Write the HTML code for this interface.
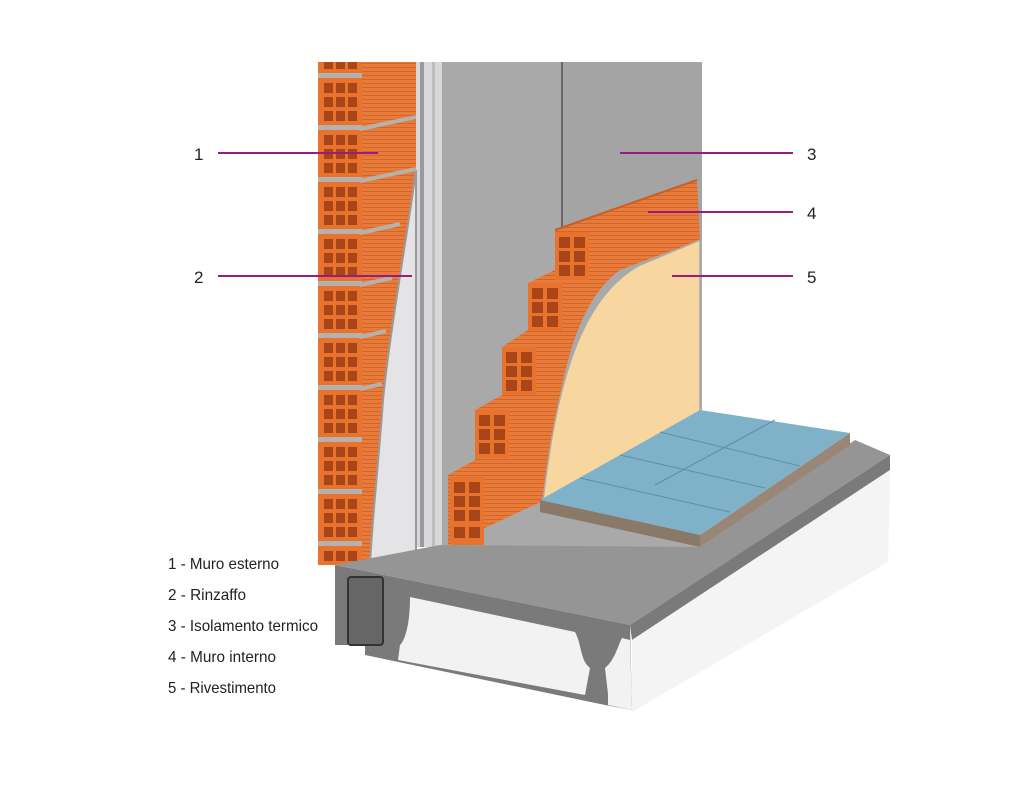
<!DOCTYPE html>
<html><head><meta charset="utf-8"><style>
html,body{margin:0;padding:0;background:#fff;}
svg{display:block}
text{font-family:"Liberation Sans Narrow","Liberation Sans",sans-serif;fill:#222;}
</style></head><body>
<svg width="1024" height="800" viewBox="0 0 1024 800" xmlns="http://www.w3.org/2000/svg">
<defs>
<pattern id="holes" width="42" height="52" patternUnits="userSpaceOnUse" x="320" y="78">
<rect width="42" height="52" fill="#e8732e"/>
<rect x="0" y="47" width="42" height="5" fill="#b5b2ad"/>
<g fill="#a8461a">
<rect x="4" y="5" width="9" height="10"/><rect x="16" y="5" width="9" height="10"/><rect x="28" y="5" width="9" height="10"/>
<rect x="4" y="19" width="9" height="10"/><rect x="16" y="19" width="9" height="10"/><rect x="28" y="19" width="9" height="10"/>
<rect x="4" y="33" width="9" height="10"/><rect x="16" y="33" width="9" height="10"/><rect x="28" y="33" width="9" height="10"/>
</g></pattern>
<pattern id="stripe" width="6" height="4" patternUnits="userSpaceOnUse">
<rect width="6" height="4" fill="#e97b3a"/><rect y="3" width="6" height="1" fill="#d2652a"/></pattern>
<g id="ib">
<rect width="34" height="48" fill="#e8732e"/>
<g fill="#a8461a"><rect x="4" y="5" width="11" height="11"/><rect x="19" y="5" width="11" height="11"/>
<rect x="4" y="19" width="11" height="11"/><rect x="19" y="19" width="11" height="11"/>
<rect x="4" y="33" width="11" height="11"/><rect x="19" y="33" width="11" height="11"/></g>
</g>
</defs>

<!-- insulation panel -->
<rect x="440" y="62" width="262" height="485" fill="#a9a9a9"/>
<rect x="562" y="62" width="140" height="180" fill="#a4a4a4"/>
<line x1="562" y1="62" x2="562" y2="232" stroke="#555" stroke-width="1.5"/>
<!-- gap strip -->
<rect x="415" y="62" width="27" height="485" fill="#d8d8da"/>
<rect x="420" y="62" width="4" height="485" fill="#9a9a9c"/>
<rect x="432" y="62" width="3" height="485" fill="#bdbdbf"/>

<!-- outer brick wall side -->
<rect x="360" y="62" width="56" height="503" fill="url(#stripe)"/>
<path d="M416 170 C405 250 390 330 383 400 C378 470 372 520 370 565 L416 565 Z" fill="#e4e4e6" stroke="#9a9a9a" stroke-width="2"/>
<rect x="318" y="62" width="44" height="503" fill="url(#holes)"/>
<g stroke="#b5b2ad" stroke-width="4"><line x1="360" y1="129" x2="416" y2="117"/><line x1="360" y1="181" x2="416" y2="169"/><line x1="360" y1="233" x2="400" y2="224"/><line x1="360" y1="285" x2="392" y2="278"/><line x1="360" y1="337" x2="386" y2="331"/><line x1="360" y1="389" x2="382" y2="384"/></g>

<!-- inner brick wall -->
<path d="M555 230 L697 180 L700 240 L620 270 C580 300 560 360 545 500 L448 545 L448 475 L475 460 L475 410 L502 395 L502 347 L528 330 L528 283 L555 270 Z" fill="url(#stripe)"/>
<path d="M555 230 L697 180" stroke="#c96028" stroke-width="2"/>
<path d="M700 240 L700 420 L545 505 L543 500 C555 400 575 300 640 265 Z" fill="#f8d6a0" stroke="#aaa" stroke-width="1.5"/>
<use href="#ib" x="555" y="232"/>
<use href="#ib" x="528" y="283"/>
<use href="#ib" x="502" y="347"/>
<use href="#ib" x="475" y="410"/>
<use href="#ib" x="450" y="477"/>
<g transform="translate(450,525)"><rect width="34" height="20" fill="#e8732e"/><rect x="4" y="2" width="11" height="11" fill="#a8461a"/><rect x="19" y="2" width="11" height="11" fill="#a8461a"/></g>

<!-- concrete slab top -->
<path d="M335 565 L440 545 L700 547 L855 440 L890 455 L630 625 Z" fill="#959595"/>
<!-- tiles -->
<path d="M540 500 L700 410 L850 433 L700 535 Z" fill="#7fb2c9"/>
<path d="M540 500 L700 535 L700 547 L540 512 Z" fill="#8a7868"/>
<path d="M700 535 L850 433 L850 445 L700 547 Z" fill="#9a8676"/>
<g stroke="#5e8fa6" stroke-width="1" fill="none"><path d="M580 478 L730 512"/><path d="M620 455 L765 488"/><path d="M660 432 L800 466"/><path d="M655 485 L775 420"/></g>
<!-- slab left face -->
<path d="M335 565 L630 625 L632 710 L605 705 L365 655 L365 645 L335 645 Z" fill="#7a7a7a"/>
<rect x="348" y="577" width="35" height="68" rx="3" fill="#666" stroke="#333" stroke-width="2"/>
<path d="M410 597 L575 632 C582 645 580 660 590 668 L585 695 L398 660 L400 645 C405 640 410 625 410 597 Z" fill="#f2f2f2"/>
<path d="M605 668 C615 660 618 645 622 638 L630 640 L632 710 L608 705 L608 694 Z" fill="#f2f2f2"/>
<!-- slab right face -->
<path d="M630 625 L890 455 L890 470 L632 640 Z" fill="#7a7a7a"/>
<path d="M632 640 L890 470 L888 562 L632 712 Z" fill="#f4f4f4"/>

<!-- leader lines -->
<g stroke="#9b1a7e" stroke-width="2">
<line x1="218" y1="153" x2="378" y2="153"/>
<line x1="218" y1="276" x2="412" y2="276"/>
<line x1="620" y1="153" x2="793" y2="153"/>
<line x1="648" y1="212" x2="793" y2="212"/>
<line x1="672" y1="276" x2="793" y2="276"/>
</g>
<g font-size="17">
<text x="194" y="160">1</text><text x="194" y="283">2</text>
<text x="807" y="160">3</text><text x="807" y="219">4</text><text x="807" y="283">5</text>
</g>
<g font-size="16">
<text x="168" y="569" textLength="111" lengthAdjust="spacingAndGlyphs">1 - Muro esterno</text>
<text x="168" y="600" textLength="78" lengthAdjust="spacingAndGlyphs">2 - Rinzaffo</text>
<text x="168" y="631" textLength="150" lengthAdjust="spacingAndGlyphs">3 - Isolamento termico</text>
<text x="168" y="662" textLength="108" lengthAdjust="spacingAndGlyphs">4 - Muro interno</text>
<text x="168" y="693" textLength="108" lengthAdjust="spacingAndGlyphs">5 - Rivestimento</text>
</g>
</svg>
</body></html>
